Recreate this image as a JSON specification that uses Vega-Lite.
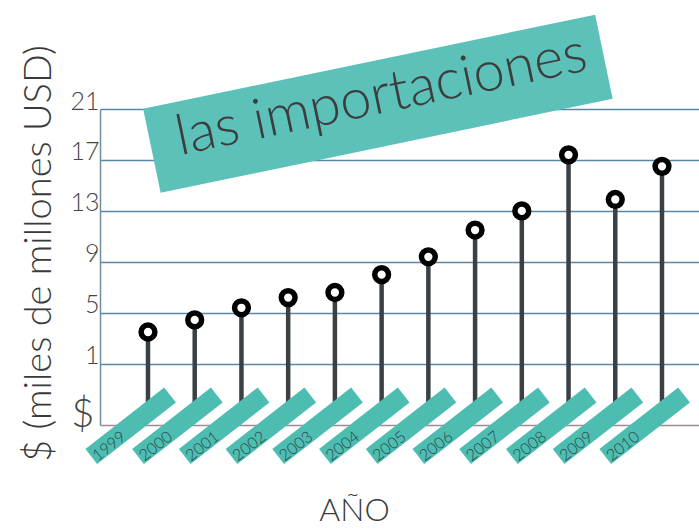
{
  "$schema": "https://vega.github.io/schema/vega-lite/v6.json",
  "width": 599,
  "height": 316,
  "autosize": {"type": "none"},
  "padding": {"left": 100, "top": 109, "right": 0, "bottom": 106},
  "background": "white",
  "config": {"view": {"stroke": null}, "font": "Lato"},
  "data": {
    "values": [
      {"year": 1999, "value": 3.5},
      {"year": 2000, "value": 4.45},
      {"year": 2001, "value": 5.4},
      {"year": 2002, "value": 6.2},
      {"year": 2003, "value": 6.6},
      {"year": 2004, "value": 8.0},
      {"year": 2005, "value": 9.4},
      {"year": 2006, "value": 11.5},
      {"year": 2007, "value": 13.0},
      {"year": 2008, "value": 17.4},
      {"year": 2009, "value": 13.9},
      {"year": 2010, "value": 16.5}
    ]
  },
  "layer": [
    {
      "mark": {"type": "rule", "color": "#3b4044", "strokeWidth": 4.5},
      "encoding": {
        "x": {
          "field": "year",
          "type": "quantitative",
          "scale": {"domain": [1997.973, 2010.792], "nice": false, "zero": false},
          "axis": {
            "title": "AÑO",
            "labels": false,
            "ticks": false,
            "grid": false,
            "domain": true,
            "domainColor": "#9a8d95",
            "domainWidth": 1.5,
            "titleFont": "Lato",
            "titleFontSize": 32,
            "titleFontWeight": 300,
            "titleColor": "#3a3a3a",
            "titleAlign": "center",
            "titleX": 254,
            "titlePadding": 70
          }
        },
        "y": {
          "field": "value",
          "type": "quantitative",
          "scale": {"domain": [-3.8, 21], "nice": false, "zero": false},
          "axis": {
            "values": [-3, 1, 5, 9, 13, 17, 21],
            "labelExpr": "datum.value == -3 ? '$' : datum.label",
            "grid": true,
            "gridColor": "#5a88a8",
            "gridWidth": 1.5,
            "gridOpacity": {"condition": {"test": "datum.value == -3", "value": 0}, "value": 1},
            "domain": true,
            "domainColor": "#6f8ca3",
            "domainWidth": 1.5,
            "ticks": false,
            "labelFont": "Lato",
            "labelFontWeight": 300,
            "labelFontSize": {"condition": {"test": "datum.value == -3", "value": 40}, "value": 25},
            "labelBaseline": {"condition": {"test": "datum.value == -3", "value": "middle"}, "value": "alphabetic"},
            "labelPadding": {"condition": {"test": "datum.value == -3", "value": 6}, "value": 1},
            "labelColor": "#454545",
            "title": "$ (miles de millones USD)",
            "titleFont": "Lato",
            "titleFontSize": 38,
            "titleFontWeight": 300,
            "titleColor": "#3a3a3a",
            "titleAngle": 270,
            "titleAlign": "center",
            "titleBaseline": "alphabetic",
            "titleX": -50,
            "titleY": 144
          }
        },
        "y2": {"datum": -3}
      }
    },
    {
      "mark": {
        "type": "point",
        "shape": "M-1.408,-0.23L0.592,-0.23L0.592,0.15L-1.408,0.15Z",
        "size": 10000,
        "angle": 322,
        "filled": true,
        "color": "#4dbdb2",
        "opacity": 1
      },
      "encoding": {
        "x": {"field": "year", "type": "quantitative"},
        "y": {"datum": -3}
      }
    },
    {
      "mark": {
        "type": "text",
        "angle": 322,
        "dx": -50,
        "dy": 1,
        "align": "center",
        "baseline": "middle",
        "font": "Lato",
        "fontSize": 16,
        "fontWeight": 300,
        "color": "#2b4644"
      },
      "encoding": {
        "x": {"field": "year", "type": "quantitative"},
        "y": {"datum": -3},
        "text": {"field": "year", "type": "nominal"}
      }
    },
    {
      "mark": {
        "type": "point",
        "shape": "circle",
        "size": 190,
        "filled": false,
        "fill": "white",
        "stroke": "black",
        "strokeWidth": 5.5,
        "opacity": 1
      },
      "encoding": {
        "x": {"field": "year", "type": "quantitative"},
        "y": {"field": "value", "type": "quantitative"}
      }
    },
    {
      "data": {"values": [{"title": "las importaciones"}]},
      "mark": {
        "type": "point",
        "shape": "M-1,-0.186L1,-0.186L1,0.186L-1,0.186Z",
        "size": 213167,
        "angle": 348.25,
        "filled": true,
        "color": "#5cc2b9",
        "opacity": 1
      },
      "encoding": {
        "x": {"datum": 2003.92},
        "y": {"datum": 21.41}
      }
    },
    {
      "data": {"values": [{"title": "las importaciones"}]},
      "mark": {
        "type": "text",
        "angle": 348.25,
        "dx": 5,
        "dy": 10,
        "align": "center",
        "baseline": "alphabetic",
        "font": "Lato",
        "fontSize": 56,
        "fontWeight": 300,
        "color": "#3d3d3d"
      },
      "encoding": {
        "x": {"datum": 2003.92},
        "y": {"datum": 21.41},
        "text": {"field": "title", "type": "nominal"}
      }
    }
  ]
}
